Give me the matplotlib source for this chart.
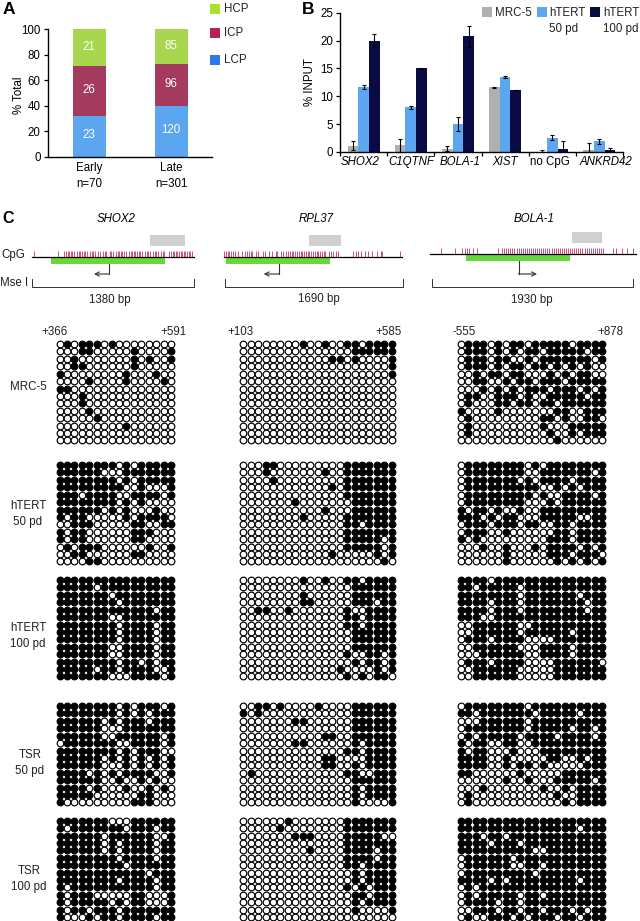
import matplotlib
matplotlib.use("Agg")
import matplotlib.pyplot as plt
from matplotlib.patches import Rectangle
from matplotlib.transforms import blended_transform_factory as btf

plt.rcParams['font.family'] = ['Liberation Sans', 'DejaVu Sans']

# ---- Panel A data
stages = ["Early\nn=70", "Late\nn=301"]
lcp_pct = [32, 40]
icp_pct = [39, 32.5]
hcp_pct = [29.5, 28]
lcp_n = [23, 120]
icp_n = [26, 96]
hcp_n = [21, 85]
classes = ["HCP", "ICP", "LCP"]

# ---- Panel B data
genes = ["SHOX2", "C1QTNF", "BOLA-1", "XIST", "no CpG", "ANKRD42"]
gene_italic = [True, True, True, True, False, True]
mrc5 = [1.1, 1.2, 0.6, 11.6, 0.0, 0.4]
mrc5_err = [0.8, 1.2, 0.4, 0.05, 0.4, 1.3]
hert50 = [11.7, 8.0, 5.0, 13.4, 2.6, 1.9]
hert50_err = [0.4, 0.2, 1.3, 0.15, 0.4, 0.5]
hert100 = [20.0, 15.0, 20.8, 11.1, 0.6, 0.4]
hert100_err = [1.1, 0.15, 1.9, 0.0, 1.3, 0.4]

# ---- Panel C data: CpG positions, % along each track
cpg_shox2 = [1, 16, 20, 21, 22, 23, 24, 25, 26, 28, 29, 30, 31, 32, 33, 34, 36, 37, 38, 39, 41, 42, 44, 45, 46,
             48, 49, 50, 52, 53, 54, 55, 56, 57, 58, 60, 61, 62, 63, 64, 65, 66, 67, 68, 70, 71, 72, 73, 75, 76,
             77, 78, 80, 81, 82, 85, 86, 87, 88, 89, 90, 91, 92, 93, 94, 95, 96, 97, 98, 99]
cpg_rpl37 = [0, 1, 2, 3, 4, 5, 6, 8, 10, 12, 13, 14, 15, 16, 18, 19, 22, 23, 25, 27, 29, 30, 32, 33, 35, 36, 37, 38,
             39, 40, 41, 42, 43, 44, 45, 46, 47, 48, 49, 50, 51, 52, 53, 54, 55, 56, 57, 59, 60, 61, 63, 64, 72.5,
             74, 75.5, 77, 79, 81, 83, 86, 88, 89, 99]
cpg_bola = [5.5, 12, 15.5, 17, 18, 19, 21, 23, 33, 35, 36, 37, 38, 39, 40, 41, 42, 43, 44, 45, 46, 47, 48, 49, 50,
            51, 52, 53, 54, 55, 56, 57, 58, 59, 60, 61, 62, 63, 64, 65, 66, 67, 68, 69, 70, 71, 72, 73, 74, 75,
            76, 77, 78, 79, 80, 81, 82, 83, 84, 88.6, 90.5, 93, 95.5, 98.6]
loci = ["SHOX2", "RPL37", "BOLA-1"]
sizes = ["1380 bp", "1690 bp", "1930 bp"]
ends = [("+366", "+591"), ("+103", "+585"), ("-555", "+878")]
samples = ["MRC-5", "hTERT\n50 pd", "hTERT\n100 pd", "TSR\n50 pd", "TSR\n100 pd"]

# '#' = methylated (filled), '.' = unmethylated (open)
S_MRC = [".#.###.#........",
         "...##.....#....#",
         "..#.......#.#..#",
         "..##......#.....",
         "#........#...#..",
         "....#....#....#.",
         "##..............",
         "...#............",
         "...#............",
         "....#...........",
         ".....#..........",
         ".........#......",
         "................",
         "................"]
S_H50 = ["########.#.#####",
         "######...#######",
         "########.#.#####",
         "#########..#...#",
         "###.####..####.#",
         "########.#.#....",
         "######.#.#...#..",
         "#.##.....#.####.",
         "..###.....##..##",
         "#.##......###...",
         "#.##......##....",
         ".#.###......#..#",
         "..##......##....",
         "....##.........."]
S_H100 = ["################",
          "#####.##########",
          "#######.########",
          "########.#######",
          "#############.##",
          "#######..#######",
          "########.####.##",
          "########.####.##",
          "########.####.##",
          "#######..####.##",
          "#######..####.##",
          "########.##.#.##",
          "#####.##.####..#",
          "#######...####.#"]
S_T50 = ["########.#.###.#",
         "########.#.#.###",
         "######.#.###.###",
         "######...#######",
         "######..######.#",
         ".#######..####.#",
         "########.#.###..",
         "######.#.#.#.#.#",
         "######...#.#.#.#",
         "####.#.#.####..#",
         "######..#..#.#..",
         "####.#...#..#.#.",
         "#####......##...",
         "#.........###..."]
S_T100 = ["#######...######",
          "#.#######.###.##",
          "######.######..#",
          "######.#.####.##",
          "######.#.####.##",
          "########.####.##",
          "#########.######",
          "############.###",
          "########.####.##",
          "#.###########.##",
          "#.###.....##...#",
          "#.#####.#.##...#",
          "#.##.###.#######",
          "#...#.##.####.##"]

R_MRC = ["........#..#..##.####",
         "...............######",
         "............##.#....#",
         "....................#",
         "....................#"] + ["....................."] * 9
R_H50 = ["...##.........#######",
         "...#.......#..#######",
         "....#.........#######",
         "............#.#######",
         "..............#######",
         ".......#.......######",
         "...........#...######",
         "........#.....#######",
         "..............##.####",
         "..............#######",
         "..............#####.#",
         "..............#####.#",
         "............#.....#.#",
         "...................#."]
R_H100 = ["........#..#..##.####",
          "...............######",
          "........#......######",
          "........##.....###.##",
          "..##..#.......#..####",
          "..............##.####",
          "..............##.####",
          "...............######",
          "...............######",
          "...............######",
          "..............#..##.#",
          "...............#.##.#",
          ".............#....#.#",
          "..............#.#.##."]
R_T50 = ["..##.#....#....######",
         "#.#............######",
         ".......##......######",
         "...............######",
         "...........##..######",
         ".......##......#.####",
         "..............##.####",
         "...........##....####",
         "...........##..#.####",
         ".#............##..###",
         "...............######",
         "...............#.####",
         "...............#.####",
         "...............#....#"]
R_T100 = ["......#.......#######",
          ".....#........#######",
          ".......###....#####..",
          "..............#######",
          ".........#....####.##",
          "..............####.##",
          "..............##.####",
          "...............#.####",
          "...............#.####",
          "..............#.#.###",
          "...............##.###",
          "...............#.####",
          "...............#....#",
          "....................."]

B_MRC = [".###.#.##.#####.####",
         ".###.#.#.##.#####.##",
         ".###.##..#.#######.#",
         ".###.#.##.##.#.#.#..",
         "..#.##.##...#.#.##..",
         "..##..#.##.###.#####",
         "...#.#.#.###.###.#.#",
         ".##..###.#..#####.##",
         ".#...##.##.##.######",
         "#....#.......##..###",
         ".#.........##.#..##.",
         ".#.........#...#####",
         ".#..........#..#.###",
         ".............#......"]
B_H50 = [".########.#.########",
         ".########..#######.#",
         ".#######.#.####.####",
         ".##########..#.#.###",
         ".#########.#..####.#",
         ".########...#.######",
         "#.##.#..#..#########",
         "###.#.##...#####..##",
         ".###.###.##..##.####",
         ".###..#......##.####",
         "#.#.........###.####",
         "...#..#...#.####.#.#",
         "......#.....###.###.",
         "......#......#.#.#.#"]
B_H100 = ["####.###############",
          "##.#####.###########",
          "########.#######.###",
          "####.###.########.##",
          "####.###.########.##",
          "###..###############",
          "..######..##########",
          "..######.######.####",
          ".###.####....#######",
          "..######...####.####",
          "...######..####.####",
          ".###.####....######.",
          "..######.....#######",
          "..######.....#######"]
B_T50 = [".########.##########",
         "##.#######.#####.###",
         "...######.##########",
         ".########.#####.##.#",
         ".#.#####.####.####.#",
         "#.##..##..##########",
         "#.##...#...#########",
         "####..#.....##..#.##",
         "####..#.##.#.....###",
         "##......#.....######",
         "......#..#...#####.#",
         "...#.......#..#.####",
         ".#...........#..####",
         ".#............#.####"]
B_T100 = ["####################",
          "################.###",
          "###.##.#############",
          "####.###.###########",
          "##########..########",
          ".######.############",
          ".######..##.########",
          ".#########.#########",
          "####.#.#########.###",
          ".#.#################",
          ".#.#####.##.########",
          ".####.##.###########",
          "..###.##.##.###.#.##",
          ".#..###.#.###.##.###"]

matrices = [[S_MRC, S_H50, S_H100, S_T50, S_T100],
            [R_MRC, R_H50, R_H100, R_T50, R_T100],
            [B_MRC, B_H50, B_H100, B_T50, B_T100]]

W, H = 640, 921
fig = plt.figure(figsize=(W / 100, H / 100), dpi=100, facecolor="white")
FS = 8.3


def ax_px(x0, ytop, x1, ybot):
    return fig.add_axes([x0 / W, 1 - ybot / H, (x1 - x0) / W, (ybot - ytop) / H])


# ---- overlay in figure pixels, above the chart axes
ov = fig.add_axes([0, 0, 1, 1], zorder=10)
ov.set_xlim(0, W)
ov.set_ylim(H, 0)
ov.axis("off")

ov.text(3, 10, "A", fontsize=12.5, fontweight="bold", ha="left", va="center")
ov.text(302, 9.5, "B", fontsize=12.5, fontweight="bold", ha="left", va="center")
ov.text(2, 218, "C", fontsize=11.5, fontweight="bold", ha="left", va="center")

# ---- Panel A
GREEN, RED, BLUE = "#a8d64e", "#a43a5e", "#5ba6ee"
axA = ax_px(47.7, 29.3, 211.7, 156.7)
xs = [0, 1]
bw = 0.4
axA.bar(xs, lcp_pct, bw, color=BLUE)
axA.bar(xs, icp_pct, bw, bottom=lcp_pct, color=RED)
tops = [a + b for a, b in zip(lcp_pct, icp_pct)]
axA.bar(xs, hcp_pct, bw, bottom=tops, color=GREEN, clip_on=False)
for i in xs:
    axA.text(i, lcp_pct[i] / 2 + 1, str(lcp_n[i]), color="white", fontsize=FS, ha="center", va="center")
    axA.text(i, lcp_pct[i] + icp_pct[i] / 2 + 1, str(icp_n[i]), color="white", fontsize=FS, ha="center", va="center")
    axA.text(i, tops[i] + hcp_pct[i] / 2, str(hcp_n[i]), color="white", fontsize=FS, ha="center", va="center")
axA.set_xlim(-0.507, 1.493)
axA.set_ylim(0, 100)
axA.set_yticks(range(0, 101, 20))
axA.set_xticks(xs)
axA.set_xticklabels(stages, fontsize=FS, linespacing=1.45)
axA.tick_params(axis="x", length=0, pad=4)
axA.tick_params(axis="y", length=3, width=0.9, labelsize=FS, pad=2)
axA.set_ylabel("% Total", fontsize=FS)
axA.yaxis.set_label_coords(-0.138, 0.48)
for s in ("top", "right"):
    axA.spines[s].set_visible(False)
for s in ("left", "bottom"):
    axA.spines[s].set_linewidth(1.0)

for name, c, y in zip(classes, ["#a6e22e", "#b5234f", "#2f76f0"], [9, 33.5, 60]):
    ov.add_patch(Rectangle((210, y - 5), 10, 10, color=c, lw=0))
    ov.text(224, y, name, fontsize=FS, ha="left", va="center", color="#222222")

# ---- Panel B
axB = ax_px(340, 12.7, 623, 152)
w = 0.225
GREY, NAVY = "#b0b0b0", "#0a0a45"
ekw = dict(ecolor="black", capsize=1.6, elinewidth=0.8, capthick=0.8)
centers = [i + 0.5 for i in range(len(genes))]
axB.bar([c - w for c in centers], mrc5, w, color=GREY, yerr=mrc5_err, error_kw=ekw)
axB.bar(centers, hert50, w, color=BLUE, yerr=hert50_err, error_kw=ekw)
axB.bar([c + w for c in centers], hert100, w, color=NAVY, yerr=hert100_err, error_kw=ekw)
axB.set_xlim(0, 6)
axB.set_ylim(0, 25)
axB.set_yticks(range(0, 26, 5))
axB.set_xticks(range(0, 7))
axB.set_xticklabels([])
axB.tick_params(axis="x", length=3, width=0.9)
axB.tick_params(axis="y", length=3, width=0.9, labelsize=FS, pad=2)
axB.set_ylabel("% INPUT", fontsize=FS)
axB.yaxis.set_label_coords(-0.085, 0.5)
for s in ("top", "right"):
    axB.spines[s].set_visible(False)
for s in ("left", "bottom"):
    axB.spines[s].set_linewidth(1.0)
for c, g, it, dx in zip(centers, genes, gene_italic, [-0.08, 0.02, 0.04, 0, -0.05, 0.14]):
    axB.text(c + dx, 162, g, transform=btf(axB.transData, ov.transData), fontsize=FS,
             style="italic" if it else "normal", ha="center", va="center", clip_on=False)

for x, c, lab, tx in [(482, GREY, "MRC-5", 495), (537, BLUE, "hTERT\n50 pd", 549), (590, NAVY, "hTERT\n100 pd", 603)]:
    ov.add_patch(Rectangle((x, 7), 10, 10, color=c, lw=0))
    ov.text(tx, 7.5, lab, fontsize=FS, ha="left", va="top", linespacing=1.4, color="#222222")

# ---- Panel C gene tracks
tracks = [
    dict(x0=32, x1=193.5, yl=257.3, gr=(51, 165, 257.7, 263.7), gb=(150, 185, 235, 245.7), tk=251,
         ar=(108.6, 263.7, 94), br=(32, 193.5), tx=(110, 300), tt=116, cpg=cpg_shox2),
    dict(x0=224, x1=402, yl=257.3, gr=(226, 330, 257.7, 263.7), gb=(309, 341, 235, 245.7), tk=251,
         ar=(279, 263.7, 263.7), br=(225.4, 402.5), tx=(319, 298.5), tt=316, cpg=cpg_rpl37),
    dict(x0=430, x1=636, yl=254.3, gr=(466, 570, 255, 260.7), gb=(572, 602, 232, 243.3), tk=248.3,
         ar=(518.5, 260.7, 537), br=(431.5, 633), tx=(532, 300), tt=534, cpg=cpg_bola),
]
for t, name, size in zip(tracks, loci, sizes):
    ov.text(t["tt"], 218.5, name, fontsize=FS, style="italic", ha="center", va="center")
    ov.add_patch(Rectangle((t["gb"][0], t["gb"][2]), t["gb"][1] - t["gb"][0], t["gb"][3] - t["gb"][2],
                           color="#d0d0d0", lw=0))
    ov.vlines([t["x0"] + p / 100 * (t["x1"] - t["x0"]) for p in t["cpg"]], t["tk"], t["yl"],
              color="#c8366a", lw=0.6)
    ov.plot([t["x0"], t["x1"]], [t["yl"], t["yl"]], color="black", lw=0.9)
    ov.add_patch(Rectangle((t["gr"][0], t["gr"][2]), t["gr"][1] - t["gr"][0], t["gr"][3] - t["gr"][2],
                           color="#66d83a", lw=0))
    ax_, ay_, ax2 = t["ar"]
    ov.plot([ax_, ax_], [ay_, 274], color="#333333", lw=0.8)
    ov.annotate("", xy=(ax2, 274), xytext=(ax_, 274),
                arrowprops=dict(arrowstyle="->,head_length=0.3,head_width=0.15", color="#333333", lw=0.8,
                                shrinkA=0, shrinkB=0))
    b0, b1 = t["br"]
    ov.plot([b0, b0, b1, b1], [279, 286.7, 286.7, 279], color="#333333", lw=0.7)
    ov.text(t["tx"][0], t["tx"][1], size, fontsize=FS, ha="center", va="center", color="#222222")
ov.text(1, 254.5, "CpG", fontsize=FS, ha="left", va="center", color="#222222")
ov.text(0, 282.5, "Mse I", fontsize=FS, ha="left", va="center", color="#222222")

# ---- Panel C dot matrices
col_x = [(59.5, 7.44), (243.3, 7.42), (461.0, 7.42)]
row_y = [344.0, 465.0, 580.0, 706.0, 820.7]
DY = 7.42
for (x0, dx), panels in zip(col_x, matrices):
    for y0, rows in zip(row_y, panels):
        xf, yf, xo, yo = [], [], [], []
        for r, row in enumerate(rows):
            for c, ch in enumerate(row):
                if ch == "#":
                    xf.append(x0 + c * dx); yf.append(y0 + r * DY)
                else:
                    xo.append(x0 + c * dx); yo.append(y0 + r * DY)
        ov.scatter(xo, yo, s=23, facecolor="white", edgecolor="black", linewidth=0.85, zorder=3)
        ov.scatter(xf, yf, s=23, facecolor="black", edgecolor="black", linewidth=0.85, zorder=4)

for (l, r), lx, rx in zip(ends, [55, 240.6, 464], [173, 389, 610]):
    ov.text(lx, 332, l, fontsize=FS, ha="center", va="center", color="#222222")
    ov.text(rx, 332, r, fontsize=FS, ha="center", va="center", color="#222222")
for lab, y, x in zip(samples, [387, 514, 636, 763, 879], [28, 28, 28, 30, 29]):
    ov.text(x, y, lab, fontsize=FS, ha="center", va="center", linespacing=1.4, color="#222222")

fig.savefig("out.png", dpi=100, facecolor="white")
